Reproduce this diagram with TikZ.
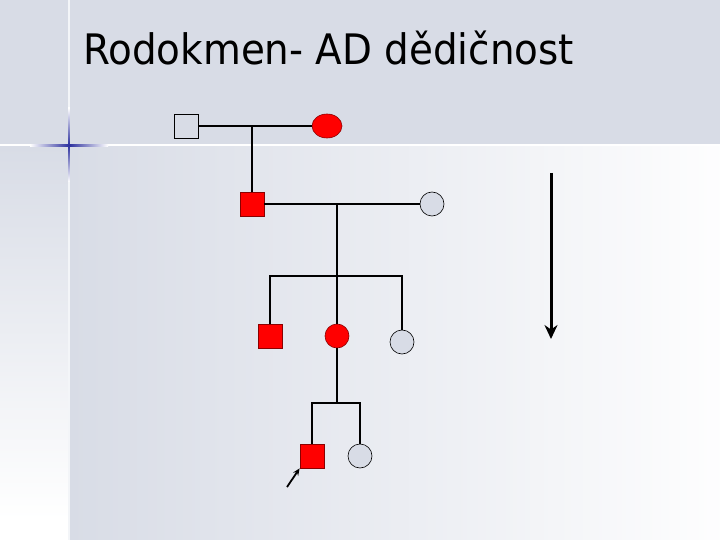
\documentclass[tikz,border=0pt]{standalone}
\usepackage{fontspec}
\newfontfamily\titlefont{DejaVu Sans}
\usetikzlibrary{arrows.meta, positioning, calc, shapes.geometric}
\definecolor{slide}{HTML}{D8DCE6}
\definecolor{affected}{HTML}{FF0000}
\definecolor{affrim}{HTML}{8A0000}
\definecolor{crossblue}{HTML}{2B2F9E}
\tikzset{
  male/.style={draw=black, line width=0.8pt, minimum size=24pt, inner sep=0pt, fill=slide},
  female/.style={circle, draw=black, line width=0.6pt, minimum size=24pt, inner sep=0pt, fill=slide},
  ill/.style={fill=affected, draw=affrim},
  kin/.style={line width=1.2pt},
}

\begin{document}
\begin{tikzpicture}[x=1pt, y=-1pt]
  \useasboundingbox (0,0) rectangle (720,540);
  \fill[slide] (0,0) rectangle (720,146);
  \shade[top color=slide, bottom color=white] (0,146) rectangle (69,520);
  \fill[white] (0,520) rectangle (69,540);
  \shade[left color=slide, right color=white!96!slide] (69,146) rectangle (720,540);
  \fill[white] (0,144.5) rectangle (720,146.5);
  \fill[white!70!slide] (68.2,0) rectangle (69.8,540);
  \shade[left color=white, right color=white, middle color=crossblue] (30,144.6) rectangle (108,146.4);
  \shade[top color=white, bottom color=white, middle color=crossblue] (68.2,108) rectangle (69.8,182);

  \node[anchor=base west, inner sep=0pt, font=\titlefont\fontsize{42}{50}\selectfont]
    (title) at (83,65) {\scalebox{0.925}[1]{Rodokmen- AD dědičnost}};

  \node[male] (gfather) at (186,126) {};
  \node[female, ellipse, ill, minimum width=30pt, minimum height=24pt] (gmother) at (327,126) {};
  \node[male, ill] (father) at (252,204) {};
  \node[female] (wife) at (432,204) {};
  \node[male, ill] (son) at (270,336) {};
  \node[female, ill] (daughter) at (337,336) {};
  \node[female] (sister) at (402,342) {};
  \node[male, ill] (proband) at (312,456) {};
  \node[female] (sibling) at (360,456) {};

  \coordinate (m1) at (252,126);
  \coordinate (m2) at (337,204);
  \coordinate (sib) at (337,276);
  \coordinate (sib2) at (337,403);
  \coordinate (ptail) at (287,487);
  \coordinate (gtop) at (551,173);
  \coordinate (gbot) at (551,339);

  \draw[kin] (gfather) -- (gmother);
  \draw[kin] (m1) -- (father.north);
  \draw[kin] (father) -- (wife);
  \draw[kin] (m2) -- (daughter.north);
  \draw[kin] (son.north) -- (son.north |- sib) -- (sister.north |- sib) -- (sister.north);
  \draw[kin] (daughter.south) -- (sib2);
  \draw[kin] (proband.north) -- (proband.north |- sib2) -- (sibling.north |- sib2) -- (sibling.north);

  \draw[line width=1.8pt, -{Stealth[length=7pt, width=6pt]}] (ptail) -- (proband.south west);
  \draw[line width=3pt, -{Stealth[length=14pt, width=13pt]}] (gtop) -- (gbot);
\end{tikzpicture}
\end{document}
